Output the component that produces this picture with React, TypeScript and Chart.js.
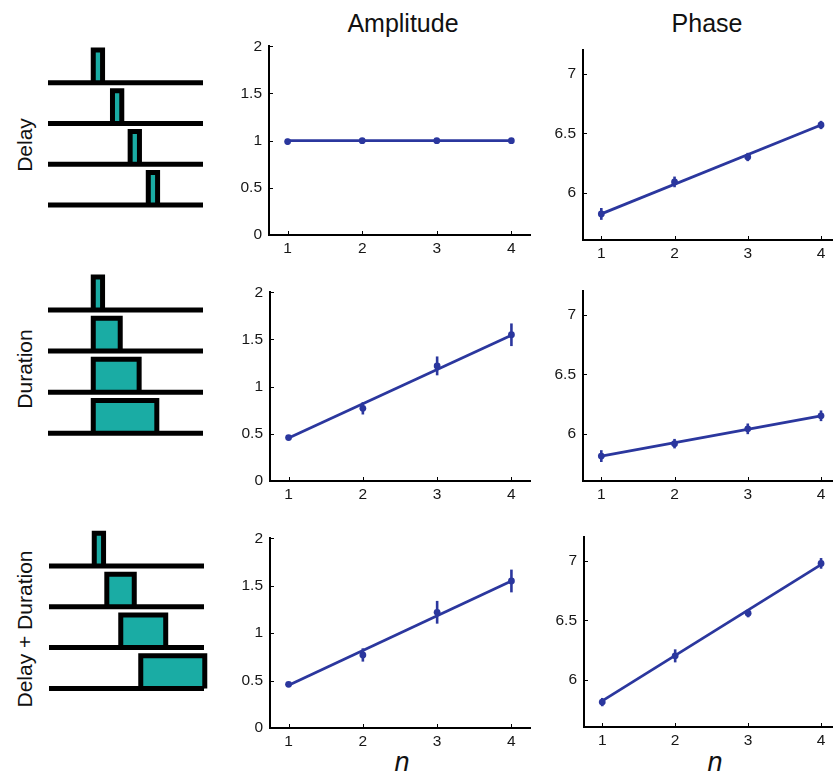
import React, { useEffect, useRef } from "react";
import { Chart, registerables } from "chart.js";

Chart.register(...registerables);

// ---------------- data ----------------
const N_VALUES = [1, 2, 3, 4];
const AMP_TICKS = [0, 0.5, 1, 1.5, 2];
const PHASE_TICKS = [6, 6.5, 7];

const COLUMN_TITLES = ["Amplitude", "Phase"];
const ROW_LABELS = ["Delay", "Duration", "Delay + Duration"];
const X_LABEL = "n";

// Amplitude
const AMP_DELAY = [0.99, 1.0, 1.0, 1.0];
const AMP_DELAY_ERR = [0.03, 0.015, 0.012, 0.02];
const AMP_DELAY_FIT = [1.0, 1.0];

const AMP_DURATION = [0.46, 0.77, 1.22, 1.55];
const AMP_DURATION_ERR = [0.02, 0.065, 0.1, 0.12];
const AMP_DURATION_FIT = [0.455, 1.545];

const AMP_DELAYDUR = [0.46, 0.77, 1.22, 1.55];
const AMP_DELAYDUR_ERR = [0.02, 0.07, 0.12, 0.12];
const AMP_DELAYDUR_FIT = [0.45, 1.55];

// Phase
const PH_DELAY = [5.82, 6.09, 6.3, 6.57];
const PH_DELAY_ERR = [0.05, 0.045, 0.035, 0.035];
const PH_DELAY_FIT = [5.82, 6.57];

const PH_DURATION = [5.81, 5.915, 6.04, 6.15];
const PH_DURATION_ERR = [0.05, 0.04, 0.045, 0.045];
const PH_DURATION_FIT = [5.81, 6.15];

const PH_DELAYDUR = [5.81, 6.2, 6.56, 6.98];
const PH_DELAYDUR_ERR = [0.035, 0.055, 0.035, 0.045];
const PH_DELAYDUR_FIT = [5.82, 6.97];

// Stimulus schematics (time units, each trace is 10 units long)
const TRACE_LENGTH = 10;
const PULSE_HEIGHT = 0.8;
const DELAY_ONSETS = [2.92, 4.16, 5.3, 6.47];
const DELAY_DURATIONS = [0.6, 0.6, 0.6, 0.6];
const DURATION_ONSETS = [2.92, 2.92, 2.92, 2.92];
const DURATION_DURATIONS = [0.6, 1.74, 2.96, 4.1];
const DELAYDUR_ONSETS = [2.92, 3.73, 4.63, 5.92];
const DELAYDUR_DURATIONS = [0.6, 1.77, 2.9, 4.13];

// ---------------- styles ----------------
const FONT = '"Liberation Sans", Arial, Helvetica, sans-serif';
const BLUE = "#2b379e";
const TEAL = "#1aaca4";
const W = 836;
const H = 778;

type Area = { left: number; top: number; right: number; bottom: number };

function PlotChart(props: {
  values: number[];
  errs: number[];
  fit: number[];
  ticks: number[];
  yMin: number;
  yMax: number;
  xMax: number;
  area: Area;
}) {
  const ref = useRef<HTMLCanvasElement | null>(null);
  const { values, errs, fit, ticks, yMin, yMax, xMax, area } = props;
  const YW = 50;
  const XH = 32;
  const PT = 15;
  const padR = area.right >= W ? 0 : 12;
  const cw = Math.round(area.right - area.left + YW + padR);
  const ch = Math.round(area.bottom - area.top + PT + XH);
  const cl = Math.round(area.left - YW);
  const ct = Math.round(area.top - PT);

  useEffect(() => {
    if (!ref.current) return;
    const errPlugin = {
      id: "errbars",
      afterDatasetsDraw(chart: any) {
        const { ctx, scales } = chart;
        const x = scales.x;
        const y = scales.y;
        ctx.save();
        ctx.strokeStyle = BLUE;
        ctx.lineWidth = 2.6;
        N_VALUES.forEach((n, i) => {
          const px = x.getPixelForValue(n);
          ctx.beginPath();
          ctx.moveTo(px, y.getPixelForValue(values[i] - errs[i]));
          ctx.lineTo(px, y.getPixelForValue(values[i] + errs[i]));
          ctx.stroke();
        });
        ctx.restore();
      },
      afterDraw(chart: any) {
        const { ctx, scales, chartArea } = chart;
        const x = scales.x;
        const y = scales.y;
        ctx.save();
        ctx.strokeStyle = "#000";
        ctx.lineWidth = 1;
        N_VALUES.forEach((n) => {
          const px = Math.round(x.getPixelForValue(n)) + 0.5;
          ctx.beginPath();
          ctx.moveTo(px, chartArea.bottom);
          ctx.lineTo(px, chartArea.bottom - 4);
          ctx.stroke();
        });
        ticks.forEach((t) => {
          const py = Math.round(y.getPixelForValue(t)) + 0.5;
          ctx.beginPath();
          ctx.moveTo(chartArea.left, py);
          ctx.lineTo(chartArea.left + 4, py);
          ctx.stroke();
        });
        ctx.restore();
      },
    };

    const chart = new Chart(ref.current, {
      type: "line",
      data: {
        datasets: [
          {
            data: N_VALUES.map((n, i) => ({ x: n, y: values[i] })),
            showLine: false,
            pointRadius: 3.4,
            pointBackgroundColor: BLUE,
            pointBorderColor: BLUE,
            pointBorderWidth: 0,
            borderColor: BLUE,
          },
          {
            data: [
              { x: N_VALUES[0], y: fit[0] },
              { x: N_VALUES[N_VALUES.length - 1], y: fit[1] },
            ],
            borderColor: BLUE,
            borderWidth: 2.8,
            pointRadius: 0,
            fill: false,
          },
        ],
      },
      options: {
        animation: false,
        responsive: false,
        events: [],
        layout: { padding: { top: PT, right: padR, left: 0, bottom: 0 } },
        plugins: { legend: { display: false }, tooltip: { enabled: false } },
        scales: {
          x: {
            type: "linear",
            min: 0.75,
            max: xMax,
            afterBuildTicks: (s: any) => {
              s.ticks = N_VALUES.map((v) => ({ value: v }));
            },
            afterFit: (s: any) => {
              s.height = XH;
            },
            grid: { display: false, drawTicks: false },
            border: { display: true, color: "#000", width: 2 },
            ticks: {
              color: "#161616",
              font: { family: FONT, size: 15.5 },
              padding: 4,
              autoSkip: false,
              maxRotation: 0,
              callback: (v: any) => String(v),
            },
          },
          y: {
            type: "linear",
            min: yMin,
            max: yMax,
            afterBuildTicks: (s: any) => {
              s.ticks = ticks.map((v) => ({ value: v }));
            },
            afterFit: (s: any) => {
              s.width = YW;
            },
            grid: { display: false, drawTicks: false },
            border: { display: true, color: "#000", width: 2 },
            ticks: {
              color: "#161616",
              font: { family: FONT, size: 15.5 },
              padding: 7,
              autoSkip: false,
              callback: (v: any) => String(v),
            },
          },
        },
      },
      plugins: [errPlugin],
    } as any);
    return () => chart.destroy();
  }, []);

  return (
    <canvas
      ref={ref}
      width={cw}
      height={ch}
      style={{ position: "absolute", left: cl, top: ct, width: cw, height: ch }}
    />
  );
}

function Schematic(props: {
  onsets: number[];
  durations: number[];
  box: { left: number; top: number; width: number; height: number };
  baseline0Y: number;
  spacing: number;
  baselineLeft: number;
  ppu: number;
}) {
  const ref = useRef<HTMLCanvasElement | null>(null);
  const { onsets, durations, box, baseline0Y, spacing, baselineLeft, ppu } = props;

  useEffect(() => {
    if (!ref.current) return;
    const baselines = onsets.map((_, k) => ({
      data: [
        { x: 0, y: -k },
        { x: TRACE_LENGTH, y: -k },
      ],
      borderColor: "#000",
      borderWidth: 5,
      borderCapStyle: "butt",
      pointRadius: 0,
      fill: false,
    }));
    const pulses = onsets.map((on, k) => ({
      data: [
        { x: on, y: -k },
        { x: on, y: -k + PULSE_HEIGHT },
        { x: on + durations[k], y: -k + PULSE_HEIGHT },
        { x: on + durations[k], y: -k },
      ],
      borderColor: "#000",
      borderWidth: 5,
      borderJoinStyle: "miter",
      borderCapStyle: "butt",
      backgroundColor: TEAL,
      pointRadius: 0,
      fill: { value: -k },
    }));
    const chart = new Chart(ref.current, {
      type: "line",
      data: { datasets: [...baselines, ...pulses] },
      options: {
        animation: false,
        responsive: false,
        events: [],
        layout: { padding: 0 },
        plugins: { legend: { display: false }, tooltip: { enabled: false } },
        scales: {
          x: {
            type: "linear",
            display: false,
            min: (box.left - baselineLeft) / ppu,
            max: (box.left + box.width - baselineLeft) / ppu,
          },
          y: {
            type: "linear",
            display: false,
            min: -(box.top + box.height - baseline0Y) / spacing,
            max: (baseline0Y - box.top) / spacing,
          },
        },
      },
    } as any);
    return () => chart.destroy();
  }, []);

  return (
    <canvas
      ref={ref}
      width={box.width}
      height={box.height}
      style={{
        position: "absolute",
        left: box.left,
        top: box.top,
        width: box.width,
        height: box.height,
      }}
    />
  );
}

function Text(props: {
  text: string;
  x: number;
  y: number;
  size: number;
  rotate?: boolean;
  italic?: boolean;
}) {
  const { text, x, y, size, rotate, italic } = props;
  return (
    <div
      style={{
        position: "absolute",
        left: x,
        top: y,
        transform: `translate(-50%, -50%)${rotate ? " rotate(-90deg)" : ""}`,
        fontSize: size,
        lineHeight: 1,
        whiteSpace: "nowrap",
        fontFamily: FONT,
        fontStyle: italic ? "italic" : "normal",
        color: "#111",
      }}
    >
      {text}
    </div>
  );
}

export default function App() {
  const ampAreas: Area[] = [
    { left: 269, top: 45, right: 530, bottom: 235 },
    { left: 270, top: 291, right: 530, bottom: 481 },
    { left: 270, top: 537, right: 530, bottom: 728 },
  ];
  const phAreas: Area[] = [
    { left: 583, top: 49, right: 836, bottom: 240 },
    { left: 583, top: 290, right: 836, bottom: 481 },
    { left: 584, top: 536, right: 836, bottom: 727 },
  ];
  const ampSeries = [
    [AMP_DELAY, AMP_DELAY_ERR, AMP_DELAY_FIT],
    [AMP_DURATION, AMP_DURATION_ERR, AMP_DURATION_FIT],
    [AMP_DELAYDUR, AMP_DELAYDUR_ERR, AMP_DELAYDUR_FIT],
  ];
  const phSeries = [
    [PH_DELAY, PH_DELAY_ERR, PH_DELAY_FIT],
    [PH_DURATION, PH_DURATION_ERR, PH_DURATION_FIT],
    [PH_DELAYDUR, PH_DELAYDUR_ERR, PH_DELAYDUR_FIT],
  ];
  const schem = [
    { onsets: DELAY_ONSETS, durations: DELAY_DURATIONS, box: { left: 30, top: 35, width: 190, height: 185 }, baseline0Y: 82.7, spacing: 40.77, baselineLeft: 48 },
    { onsets: DURATION_ONSETS, durations: DURATION_DURATIONS, box: { left: 30, top: 262, width: 190, height: 185 }, baseline0Y: 310, spacing: 41.1, baselineLeft: 48 },
    { onsets: DELAYDUR_ONSETS, durations: DELAYDUR_DURATIONS, box: { left: 30, top: 515, width: 190, height: 190 }, baseline0Y: 566, spacing: 40.8, baselineLeft: 49 },
  ];
  const rowLabelY = [145, 369, 629];

  return (
    <div
      style={{
        position: "absolute",
        left: 0,
        top: 0,
        width: W,
        height: H,
        background: "#fff",
        overflow: "hidden",
      }}
    >
      <Text text={COLUMN_TITLES[0]} x={403} y={23} size={25} />
      <Text text={COLUMN_TITLES[1]} x={707} y={23} size={25} />
      {ROW_LABELS.map((t, i) => (
        <Text key={t} text={t} x={24} y={rowLabelY[i]} size={21} rotate />
      ))}
      <Text text={X_LABEL} x={402} y={762} size={27} italic />
      <Text text={X_LABEL} x={715} y={762} size={27} italic />
      {schem.map((s, i) => (
        <Schematic
          key={"s" + i}
          onsets={s.onsets}
          durations={s.durations}
          box={s.box}
          baseline0Y={s.baseline0Y}
          spacing={s.spacing}
          baselineLeft={s.baselineLeft}
          ppu={15.5}
        />
      ))}
      {ampSeries.map((s, i) => (
        <PlotChart
          key={"a" + i}
          values={s[0]}
          errs={s[1]}
          fit={s[2]}
          ticks={AMP_TICKS}
          yMin={0}
          yMax={2}
          xMax={4.25}
          area={ampAreas[i]}
        />
      ))}
      {phSeries.map((s, i) => (
        <PlotChart
          key={"p" + i}
          values={s[0]}
          errs={s[1]}
          fit={s[2]}
          ticks={PHASE_TICKS}
          yMin={5.6}
          yMax={7.2}
          xMax={4.15}
          area={phAreas[i]}
        />
      ))}
    </div>
  );
}
